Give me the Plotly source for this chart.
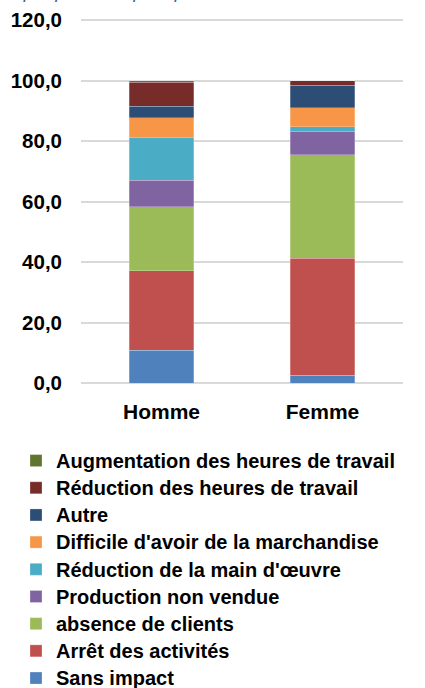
import plotly.graph_objects as go

categories = ["Homme", "Femme"]
series_names = [
    "Sans impact",
    "Arrêt des activités",
    "absence de clients",
    "Production non vendue",
    "Réduction de la main d'œuvre",
    "Difficile d'avoir de la marchandise",
    "Autre",
    "Réduction des heures de travail",
    "Augmentation des heures de travail",
]
sans_impact = [10.8, 2.5]
arret = [26.3, 38.7]
absence_clients = [21.2, 34.3]
production_non_vendue = [8.8, 7.8]
reduction_main = [14.0, 1.5]
difficile_marchandise = [6.7, 6.3]
autre = [3.7, 7.4]
reduction_heures = [8.0, 1.5]
augmentation_heures = [0.5, 0.0]
series_values = [sans_impact, arret, absence_clients, production_non_vendue,
                 reduction_main, difficile_marchandise, autre,
                 reduction_heures, augmentation_heures]
colors = ["#4F81BD", "#C0504D", "#9BBB59", "#8064A2", "#4BACC6",
          "#F79646", "#2C4D75", "#772C2A", "#5F7530"]
tick_vals = [0, 20, 40, 60, 80, 100, 120]

fig = go.Figure()
for name, vals, col in zip(series_names, series_values, colors):
    fig.add_trace(go.Bar(
        x=categories, y=vals, name="<span style='font-size:20px'>" + name + "</span>",
        hovertemplate=name + ": %{y:.1f}<extra></extra>",
        marker=dict(color=col, line=dict(color="rgba(255,255,255,0.5)", width=0.5)),
    ))

FONT = "Liberation Sans, Arial, sans-serif"
L, T, PW, PH = 81, 19, 322, 364
fig.update_layout(
    width=425, height=688,
    barmode="stack", bargap=0.6,
    separators=", ",
    paper_bgcolor="white", plot_bgcolor="white",
    margin=dict(l=L, r=425 - L - PW, t=T, b=688 - T - PH, autoexpand=False),
    font=dict(family=FONT, color="black"),
    showlegend=True,
    legend=dict(
        traceorder="reversed",
        xref="paper", yref="paper",
        x=(16 - L) / PW, y=(T + PH - 442) / PH, xanchor="left", yanchor="top",
        font=dict(size=18.6, family=FONT, weight="bold", color="black"),
        bgcolor="rgba(0,0,0,0)",
    ),
    yaxis=dict(
        range=[0, 120.4], tickvals=tick_vals, tickformat=".1f",
        showgrid=True, gridcolor="#D9D9D9", gridwidth=1.5,
        zeroline=True, zerolinecolor="#D9D9D9", zerolinewidth=1.5,
        showline=False, ticks="", ticklabelstandoff=18, automargin=False,
        tickfont=dict(size=20.5, family=FONT, weight="bold", color="black"),
    ),
    xaxis=dict(
        showline=False, ticks="", ticklabelstandoff=14, automargin=False,
        tickfont=dict(size=21, family=FONT, weight="bold", color="black"),
    ),
    annotations=[dict(
        text="Graphique 5 : Impact par sexe de la COVID-19 selon le genre",
        xref="paper", yref="paper", x=(-10 - L) / PW, y=(T + PH - 4) / PH,
        xanchor="left", yanchor="bottom", showarrow=False,
        font=dict(size=19, family=FONT, style="italic", color="#3E5F95"),
    )],
)

fig.write_html("out.html", config={"displayModeBar": False},
               post_script="document.body.style.margin='0';")
